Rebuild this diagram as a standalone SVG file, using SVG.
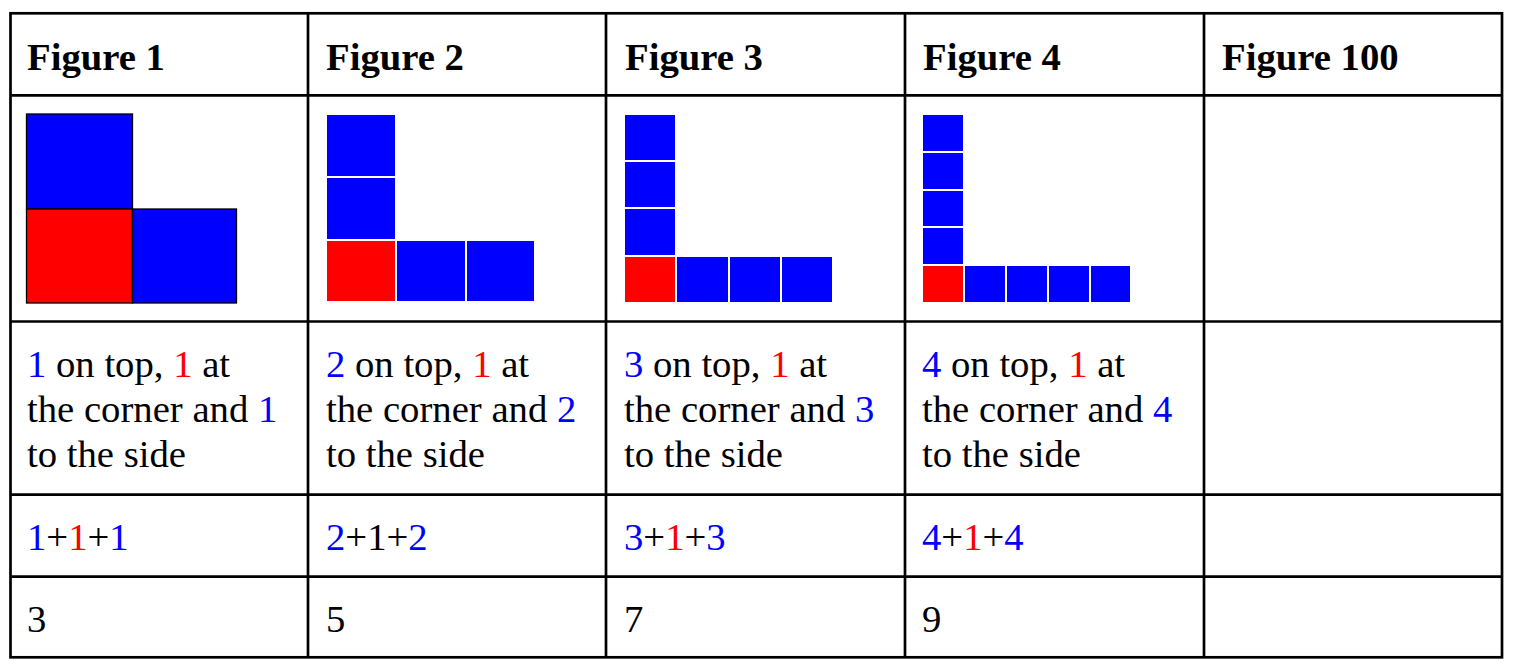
<svg xmlns="http://www.w3.org/2000/svg" width="1515" height="671" viewBox="0 0 1515 671">
<style>
.b{fill:#0000ff}
.r{fill:#ff0000}
.g{stroke:#000;stroke-width:2.7;fill:none}
</style>
<rect width="1515" height="671" fill="#fff"/>
<g id="grid" class="g">
<rect x="10.5" y="13.3" width="1491.5" height="644"/>
<line x1="10.5" y1="95.3" x2="1502" y2="95.3"/>
<line x1="10.5" y1="321.5" x2="1502" y2="321.5"/>
<line x1="10.5" y1="494.7" x2="1502" y2="494.7"/>
<line x1="10.5" y1="576.7" x2="1502" y2="576.7"/>
<line x1="308" y1="13.3" x2="308" y2="657.3"/>
<line x1="606" y1="13.3" x2="606" y2="657.3"/>
<line x1="905" y1="13.3" x2="905" y2="657.3"/>
<line x1="1204" y1="13.3" x2="1204" y2="657.3"/>
</g>
<g font-family="Liberation Serif" font-size="38.7" fill="#000">
<g id="fig1">
<text font-weight="bold" x="27" y="69.5">Figure 1</text>
<g stroke="#000" stroke-width="1.3">
<rect class="b" x="26.5" y="114" width="106" height="95"/>
<rect class="r" x="26.5" y="209" width="106" height="94"/>
<rect class="b" x="132.5" y="209" width="104" height="94"/>
</g>
<text y="376.7"><tspan x="27" class="b">1</tspan> on top, <tspan class="r">1</tspan> at</text>
<text x="27" y="421.7">the corner and <tspan class="b">1</tspan></text>
<text x="27" y="466.7">to the side</text>
<text x="27" y="550"><tspan class="b">1</tspan>+<tspan class="r">1</tspan>+<tspan class="b">1</tspan></text>
<text x="27" y="631.7">3</text>
</g>
<g id="fig2">
<text font-weight="bold" x="326" y="69.5">Figure 2</text>
<rect class="b" x="327" y="115" width="68" height="61"/>
<rect class="b" x="327" y="178" width="68" height="61"/>
<rect class="r" x="327" y="241" width="68" height="60"/>
<rect class="b" x="397" y="241" width="68" height="60"/>
<rect class="b" x="467" y="241" width="67" height="60"/>
<text y="376.7"><tspan x="326" class="b">2</tspan> on top, <tspan class="r">1</tspan> at</text>
<text x="326" y="421.7">the corner and <tspan class="b">2</tspan></text>
<text x="326" y="466.7">to the side</text>
<text x="326" y="550"><tspan class="b">2</tspan>+1+<tspan class="b">2</tspan></text>
<text x="326" y="631.7">5</text>
</g>
<g id="fig3">
<text font-weight="bold" x="625" y="69.5">Figure 3</text>
<rect class="b" x="625" y="115" width="50" height="45"/>
<rect class="b" x="625" y="162" width="50" height="45"/>
<rect class="b" x="625" y="209" width="50" height="46"/>
<rect class="r" x="625" y="257" width="50" height="45"/>
<rect class="b" x="677" y="257" width="51" height="45"/>
<rect class="b" x="730" y="257" width="50" height="45"/>
<rect class="b" x="782" y="257" width="50" height="45"/>
<text y="376.7"><tspan x="624" class="b">3</tspan> on top, <tspan class="r">1</tspan> at</text>
<text x="624" y="421.7">the corner and <tspan class="b">3</tspan></text>
<text x="624" y="466.7">to the side</text>
<text x="624" y="550"><tspan class="b">3</tspan>+<tspan class="r">1</tspan>+<tspan class="b">3</tspan></text>
<text x="624" y="631.7">7</text>
</g>
<g id="fig4">
<text font-weight="bold" x="923" y="69.5">Figure 4</text>
<rect class="b" x="923" y="115" width="40" height="36"/>
<rect class="b" x="923" y="153" width="40" height="36"/>
<rect class="b" x="923" y="191" width="40" height="35"/>
<rect class="b" x="923" y="228" width="40" height="36"/>
<rect class="r" x="923" y="266" width="40" height="36"/>
<rect class="b" x="965" y="266" width="40" height="36"/>
<rect class="b" x="1007" y="266" width="40" height="36"/>
<rect class="b" x="1049" y="266" width="40" height="36"/>
<rect class="b" x="1091" y="266" width="39" height="36"/>
<text y="376.7"><tspan x="922" class="b">4</tspan> on top, <tspan class="r">1</tspan> at</text>
<text x="922" y="421.7">the corner and <tspan class="b">4</tspan></text>
<text x="922" y="466.7">to the side</text>
<text x="922" y="550"><tspan class="b">4</tspan>+<tspan class="r">1</tspan>+<tspan class="b">4</tspan></text>
<text x="922" y="631.7">9</text>
</g>
<g id="fig100">
<text font-weight="bold" x="1222" y="69.5">Figure 100</text>
</g>
</g>
</svg>
